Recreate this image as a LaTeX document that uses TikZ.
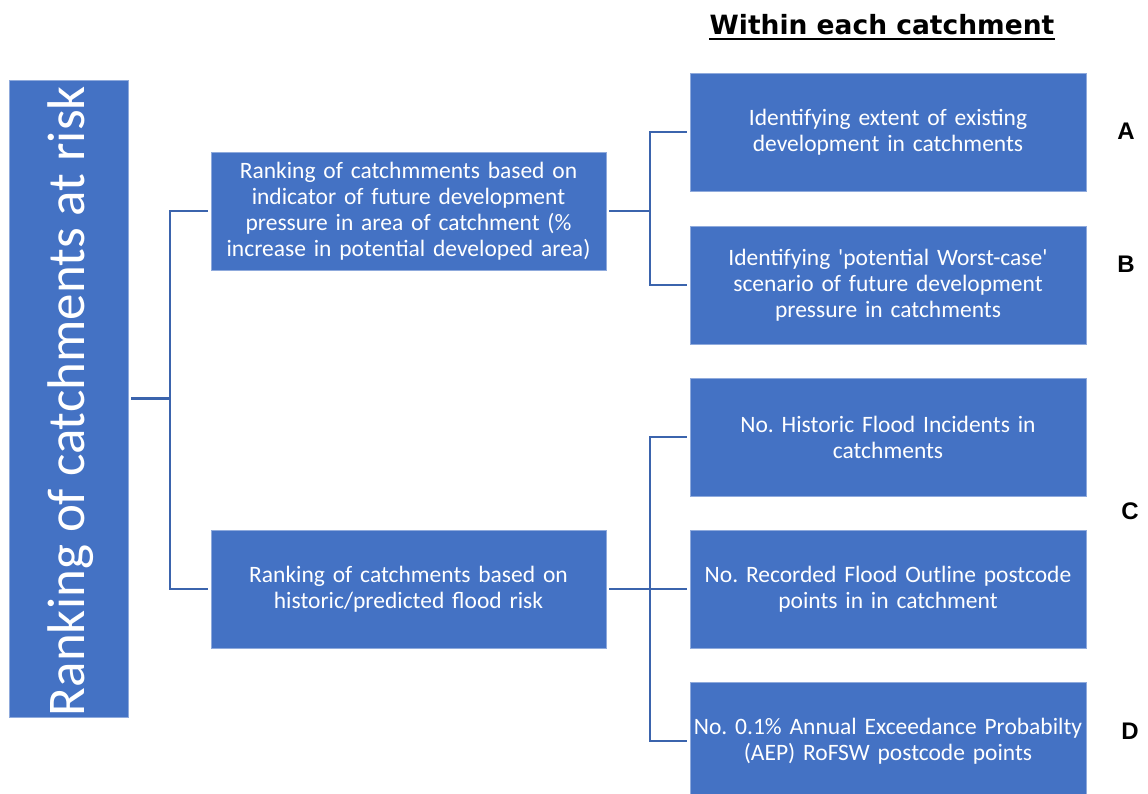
\documentclass[tikz,border=0pt]{standalone}
\usepackage{fontspec}
\setmainfont{Carlito}
\newfontfamily\titlefont{DejaVu Sans}
\newfontfamily\letterfont{Liberation Sans}
\definecolor{boxblue}{HTML}{4472C4}
\definecolor{boxedge}{HTML}{8FAADC}
\definecolor{linkblue}{HTML}{3B64AD}
\newcommand\myboxfont{\fontsize{23.5}{26}\selectfont\hyphenpenalty=10000\relax}
\frenchspacing
\begin{document}
\begin{tikzpicture}[x=1pt,y=-1pt,
  box/.style={fill=boxblue, draw=boxedge, line width=0.8pt, text=white, align=center,
    font=\myboxfont, inner sep=0pt},
  midbox/.style={box, minimum width=395pt, minimum height=118pt, text width=390pt},
  rbox/.style={box, minimum width=396pt, minimum height=118pt, text width=394pt},
  link/.style={draw=linkblue, line width=2.5pt},
  letter/.style={font=\letterfont\bfseries\fontsize{24}{28}\selectfont, inner sep=0pt}]
\useasboundingbox (0,0) rectangle (1148,794);
% title
\node[font=\titlefont\bfseries\fontsize{26.5}{30}\selectfont, inner sep=0pt, anchor=base] (title) at (882,35) {Within each catchment};
\draw[line width=2.5pt] ([yshift=-4pt]title.base west) -- ([yshift=-4pt]title.base east);
% left box
\node[box, minimum width=119pt, minimum height=637pt] (L) at (68.5,398.5) {};
\node[text=white, font=\fontsize{53}{60}\selectfont, inner sep=0pt, rotate=90, anchor=base] (Lt) at (84,401) {Ranking of catchments at risk};
% middle boxes
\node[midbox] (m1) at (408.5,211) {Ranking of catchmments based on\\indicator of future development\\pressure in area of catchment (\%\\increase in potential developed area)};
\node[midbox] (m2) at (408.5,589) {Ranking of catchments based on\\historic/predicted flood risk};
% right boxes
\node[rbox] (rA) at (888,132) {Identifying extent of existing\\development in catchments};
\node[rbox] (rB) at (888,285) {Identifying \textquotesingle potential Worst-case\textquotesingle\\scenario of future development\\pressure in catchments};
\node[rbox] (rC1) at (888,437) {No. Historic Flood Incidents in\\catchments};
\node[rbox] (rC2) at (888,589) {No. Recorded Flood Outline postcode\\points in in catchment};
\node[rbox] (rD) at (888,741) {No. 0.1\% Annual Exceedance Probabilty\\(AEP) RoFSW postcode points};
% letters
\node[letter] (lA) at (1126,131) {A};
\node[letter] (lB) at (1126,264) {B};
\node[letter] (lC) at (1130,511) {C};
\node[letter] (lD) at (1130,731) {D};
% connectors
\coordinate (j1) at (170,398.5);
\coordinate (j2) at (650,211);
\coordinate (j3) at (650,589);
\draw[link] ([xshift=3pt]L.east) -- (j1);
\draw[link] ([xshift=-3pt]m1.west) -| (j1) |- ([xshift=-3pt]m2.west);
\draw[link] ([xshift=3pt]m1.east) -- (j2);
\draw[link] ([xshift=-3pt]rA.west) -| (j2) |- ([xshift=-3pt]rB.west);
\draw[link] ([xshift=3pt]m2.east) -- ([xshift=-3pt]rC2.west);
\draw[link] ([xshift=-3pt]rC1.west) -| (j3) |- ([xshift=-3pt]rD.west);
\end{tikzpicture}
\end{document}
